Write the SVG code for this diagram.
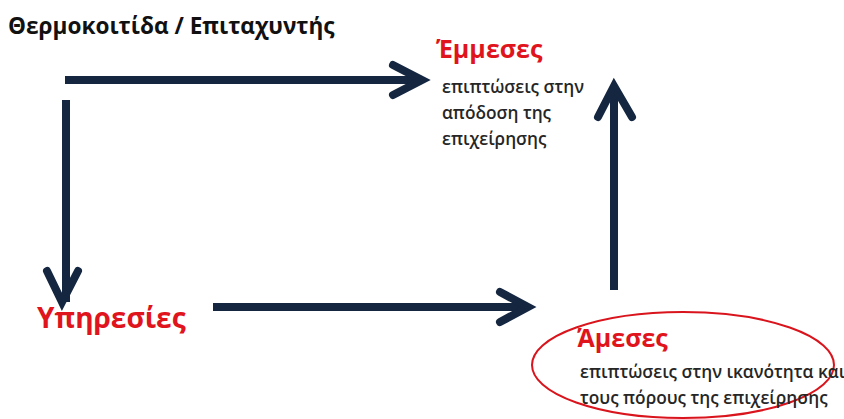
<svg xmlns="http://www.w3.org/2000/svg" width="844" height="419" viewBox="0 0 844 419">
  <style>
    .title { font-family: "Open Sans", "Liberation Sans", sans-serif; font-weight: bold; font-size: 22.6px; fill: #111; }
    .head { font-family: "Open Sans", "Liberation Sans", sans-serif; font-weight: bold; font-size: 25px; fill: #e0141c; }
    .head-lg { font-size: 28px; }
    .sub { font-family: "Open Sans", "Liberation Sans", sans-serif; font-weight: 600; font-size: 17.3px; fill: #262626; }
    .shaft { stroke: #142640; stroke-width: 8; fill: none; }
    .head-chev { stroke: #142640; stroke-width: 8; fill: none; stroke-linecap: round; stroke-linejoin: miter; }
  </style>
  <rect width="844" height="419" fill="#ffffff"/>

  <g id="title">
    <text class="title" x="8" y="34">Θερμοκοιτίδα / Επιταχυντής</text>
  </g>

  <g id="indirect">
    <text class="head" x="436" y="58">Έμμεσες</text>
    <text class="sub" x="442" y="93">επιπτώσεις στην</text>
    <text class="sub" x="442" y="119">απόδοση της</text>
    <text class="sub" x="442" y="145">επιχείρησης</text>
  </g>

  <g id="services">
    <text class="head head-lg" x="37" y="328">Υπηρεσίες</text>
  </g>

  <g id="direct">
    <ellipse cx="683" cy="365" rx="151" ry="53" fill="none" stroke="#d9141c" stroke-width="2"/>
    <text class="head" x="577" y="347">Άμεσες</text>
    <text class="sub" x="580" y="378">επιπτώσεις στην ικανότητα και</text>
    <text class="sub" x="580" y="404">τους πόρους της επιχείρησης</text>
  </g>

  <g id="connectors">
    <!-- top: to indirect effects -->
    <line class="shaft" x1="65" y1="80" x2="422" y2="80"/>
    <polyline class="head-chev" points="393,65 422,80 393,95"/>
    <!-- left: down to services -->
    <line class="shaft" x1="66" y1="100" x2="66" y2="302"/>
    <polyline class="head-chev" points="47,271 62,302 78,271"/>
    <!-- bottom: services to direct effects -->
    <line class="shaft" x1="213" y1="307" x2="528" y2="307"/>
    <polyline class="head-chev" points="500,292 528,307 500,322"/>
    <!-- right: direct up to indirect -->
    <line class="shaft" x1="614" y1="290" x2="614" y2="86"/>
    <polyline class="head-chev" points="598,117 614,86 632,117"/>
  </g>
</svg>
